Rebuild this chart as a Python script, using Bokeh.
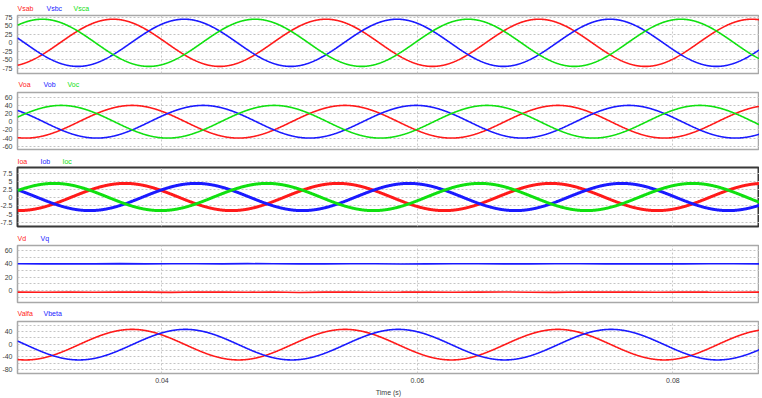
import numpy as np
from bokeh.plotting import figure
from bokeh.layouts import column
from bokeh.models import Range1d, FixedTicker
from bokeh.core.properties import value
from bokeh.embed import file_html
from bokeh.resources import INLINE

# ---------------- data ----------------
FREQ_HZ = 60.0
T_START, T_END = 0.02869, 0.08678
x_ticks = [0.04, 0.06, 0.08]
x_tick_labels = ["0.04", "0.06", "0.08"]

RED, BLUE, GREEN = "#ff1a1a", "#1a1aff", "#10e010"

vs_names = ["Vsab", "Vsbc", "Vsca"]
vs_amp = [70.0, 70.0, 70.0]
vs_peak_t = [0.03618, 0.04174, 0.03063]
vs_ticks = [75, 50, 25, 0, -25, -50, -75]

vo_names = ["Voa", "Vob", "Voc"]
vo_amp = [40.0, 40.0, 40.0]
vo_peak_t = [0.03766, 0.04322, 0.03211]
vo_ticks = [60, 40, 20, 0, -20, -40, -60]

io_names = ["Ioa", "Iob", "Ioc"]
io_amp = [4.15, 4.15, 4.15]
io_offset = [0.2, 0.2, 0.2]
io_peak_t = [0.03711, 0.04267, 0.03156]
io_ticks = [7.5, 5, 2.5, 0, -2.5, -5, -7.5]
io_tick_labels = ["7.5", "5", "2.5", "0", "-2.5", "-5", "-7.5"]

dq_names = ["Vd", "Vq"]
vd_values = [-2.4, -2.6, -2.2, -2.7, -2.3, -2.5, -2.8, -2.2, -2.4, -2.6,
             -2.3, -2.9, -2.4, -2.2, -2.6, -2.5, -2.3, -2.7, -2.4, -2.2,
             -2.6, -2.8, -2.3, -2.5, -2.4, -2.7, -2.2, -2.5, -2.6, -2.4]
vq_values = [40.1, 39.9, 40.2, 40.0, 40.3, 39.9, 40.1, 40.2, 40.0, 40.3,
             40.1, 39.9, 40.0, 40.2, 40.1, 39.8, 40.0, 40.2, 40.1, 40.0,
             39.9, 40.1, 40.2, 40.0, 39.9, 40.1, 40.0, 40.2, 40.1, 40.0]
dq_ticks = [60, 40, 20, 0]

ab_names = ["Valfa", "Vbeta"]
ab_amp = [48.5, 48.5]
ab_offset = [-1.5, -1.5]
ab_peak_t = [0.03766, 0.04183]
ab_ticks = [40, 0, -40, -80]

# ------------------------------------------------------------
t = np.linspace(T_START, T_END, 1600)
t_dq = np.linspace(T_START, T_END, len(vd_values))


def wave(amp, peak_t, offset=0.0):
    return offset + amp * np.cos(2 * np.pi * FREQ_HZ * (t - peak_t))


FONT = "Liberation Sans"
W = 762
HDR_FRAME = 20     # frames start at least 20px in from a figure's left edge
HDR_SHIFT = 6      # header strip pulled left by this many px
PANEL_SHIFT = 3    # panels pulled left so their frame starts at page x=17


def header(height, names, colors, xs, yc):
    """Thin strip above a panel holding the coloured series names.
    Its x scale is set so that one unit equals one page pixel."""
    x0 = HDR_FRAME - HDR_SHIFT
    h = figure(width=W, height=height, x_range=Range1d(x0, W - HDR_SHIFT),
               y_range=Range1d(height, 0), output_backend="svg",
               toolbar_location=None, x_axis_location=None, y_axis_location=None,
               min_border_left=0, min_border_right=0, min_border_top=0,
               min_border_bottom=0, margin=(0, 0, 0, -HDR_SHIFT))
    h.outline_line_color = None
    h.background_fill_color = "white"
    h.border_fill_color = "white"
    h.grid.visible = False
    h.text(x=xs, y=[yc] * len(xs), text=names, text_color=colors,
           text_font=value(FONT), text_font_size="7px", text_baseline="middle",
           text_align="left")
    return h


def make_panel(height, bottom, yr, ticks, tick_labels, grid, show_x=False,
               outline="#a8a8a8", outline_w=1.5):
    p = figure(width=W + PANEL_SHIFT, height=height,
               x_range=Range1d(T_START, T_END),
               y_range=Range1d(*yr), output_backend="svg", toolbar_location=None,
               min_border_left=HDR_FRAME, min_border_right=0, min_border_top=2,
               min_border_bottom=bottom, margin=(0, 0, 0, -PANEL_SHIFT),
               x_axis_location="below" if show_x else None)
    p.outline_line_color = outline
    p.outline_line_width = outline_w
    p.background_fill_color = "white"
    p.border_fill_color = "white"
    ax = p.yaxis[0]
    ax.ticker = FixedTicker(ticks=ticks)
    ax.major_label_overrides = {float(v): s for v, s in zip(ticks, tick_labels)}
    ax.major_tick_line_color = None
    ax.minor_tick_line_color = None
    ax.major_tick_out = 0
    ax.major_tick_in = 0
    ax.axis_line_color = None
    ax.major_label_standoff = 5
    ax.major_label_text_font_size = "7px"
    ax.major_label_text_font = FONT
    ax.major_label_text_color = "#404040"
    for g in p.ygrid:
        g.ticker = FixedTicker(ticks=grid)
        g.grid_line_color = "#c4c4c4"
        g.grid_line_dash = "2 2"
        g.grid_line_width = 1
    for g in p.xgrid:
        g.ticker = FixedTicker(ticks=x_ticks)
        g.grid_line_color = "#c8c8c8"
        g.grid_line_dash = "2 2"
        g.grid_line_width = 1
    if show_x:
        xa = p.xaxis[0]
        xa.ticker = FixedTicker(ticks=x_ticks)
        xa.major_label_overrides = {v: s for v, s in zip(x_ticks, x_tick_labels)}
        xa.major_tick_line_color = None
        xa.minor_tick_line_color = None
        xa.major_tick_out = 0
        xa.major_tick_in = 0
        xa.axis_line_color = None
        xa.major_label_standoff = 4
        xa.major_label_text_font_size = "7px"
        xa.major_label_text_font = FONT
        xa.major_label_text_color = "#404040"
        xa.axis_label = "Time (s)"
        xa.axis_label_text_font_size = "7px"
        xa.axis_label_text_font = FONT
        xa.axis_label_text_font_style = "normal"
        xa.axis_label_text_color = "#404040"
        xa.axis_label_standoff = 3
    return p


cols3 = [RED, BLUE, GREEN]

h1 = header(13, vs_names, cols3, [17, 46, 73], 7.5)
p1 = make_panel(63, 3, (-91, 81), vs_ticks, [str(v) for v in vs_ticks], vs_ticks)
for a, pk, c in zip(vs_amp, vs_peak_t, cols3):
    p1.line(t, wave(a, pk), line_color=c, line_width=1.6)

h2 = header(14, vo_names, cols3, [18, 43, 67], 8.3)
p2 = make_panel(63, 4, (-68, 71.6), vo_ticks, [str(v) for v in vo_ticks], vo_ticks)
for a, pk, c in zip(vo_amp, vo_peak_t, cols3):
    p2.line(t, wave(a, pk), line_color=c, line_width=1.6)

h3 = header(12, io_names, cols3, [17, 40, 62], 7.7)
p3 = make_panel(65, 4, (-8.8, 9.2), io_ticks, io_tick_labels, io_ticks,
                outline="#383838", outline_w=2)
for a, pk, off, c in zip(io_amp, io_peak_t, io_offset, cols3):
    p3.line(t, wave(a, pk, off), line_color=c, line_width=3)

h4 = header(13, dq_names, [RED, BLUE], [17, 40], 7.7)
p4 = make_panel(63, 4, (-18, 67.5), dq_ticks, [str(v) for v in dq_ticks],
                [60, 50, 40, 30, 20, 10, 0, -10])
p4.line(t_dq, vd_values, line_color=RED, line_width=1.6)
p4.line(t_dq, vq_values, line_color=BLUE, line_width=1.6)

h5 = header(13, ab_names, [RED, BLUE], [17, 43], 7.3)
p5 = make_panel(79, 22, (-93, 72), ab_ticks, [str(v) for v in ab_ticks],
                [60, 40, 20, 0, -20, -40, -60, -80], show_x=True)
for a, pk, off, c in zip(ab_amp, ab_peak_t, ab_offset, [RED, BLUE]):
    p5.line(t, wave(a, pk, off), line_color=c, line_width=1.6)

layout = column(h1, p1, h2, p2, h3, p3, h4, p4, h5, p5, spacing=0)

open("out.html", "w").write(file_html(layout, INLINE))
